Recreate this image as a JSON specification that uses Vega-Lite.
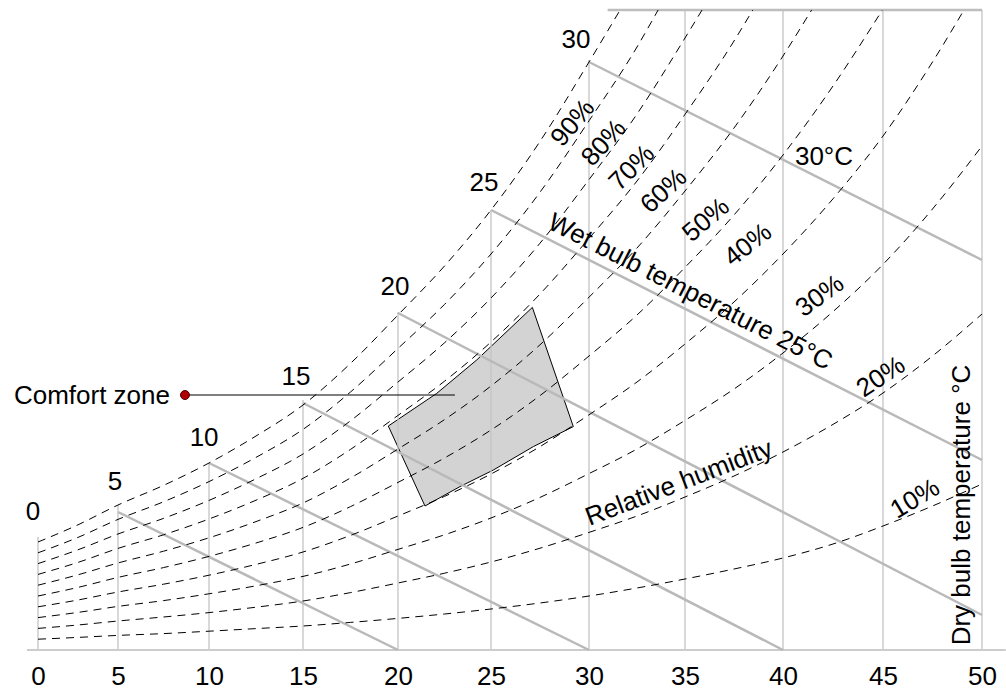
{
  "$schema": "https://vega.github.io/schema/vega-lite/v6.json",
  "width": 1006,
  "height": 640,
  "autosize": {"type": "none"},
  "padding": {"left": 0, "top": 10, "right": 0, "bottom": 42},
  "background": "white",
  "config": {"view": {"stroke": null}, "font": "Liberation Sans", "text": {"font": "Liberation Sans", "fontSize": 26, "color": "black"}},
  "datasets": {
    "rh": [
      {"rh":100,"t":0,"w":5.40},{"rh":100,"t":2.5,"w":6.26},{"rh":100,"t":5,"w":7.25},{"rh":100,"t":7.5,"w":8.23},{"rh":100,"t":10,"w":9.35},{"rh":100,"t":12.5,"w":10.70},{"rh":100,"t":15,"w":12.25},{"rh":100,"t":17.5,"w":14.33},{"rh":100,"t":20,"w":16.75},{"rh":100,"t":22.5,"w":19.20},{"rh":100,"t":25,"w":22.00},{"rh":100,"t":27.5,"w":25.43},{"rh":100,"t":30,"w":29.40},{"rh":100,"t":31.62,"w":32},
      {"rh":90,"t":0,"w":4.86},{"rh":90,"t":2.5,"w":5.63},{"rh":90,"t":5,"w":6.53},{"rh":90,"t":7.5,"w":7.41},{"rh":90,"t":10,"w":8.42},{"rh":90,"t":12.5,"w":9.63},{"rh":90,"t":15,"w":11.03},{"rh":90,"t":17.5,"w":12.90},{"rh":90,"t":20,"w":15.08},{"rh":90,"t":22.5,"w":17.28},{"rh":90,"t":25,"w":19.80},{"rh":90,"t":27.5,"w":22.89},{"rh":90,"t":30,"w":26.46},{"rh":90,"t":32.5,"w":30.15},{"rh":90,"t":33.6,"w":32},
      {"rh":80,"t":0,"w":4.32},{"rh":80,"t":2.5,"w":5.01},{"rh":80,"t":5,"w":5.80},{"rh":80,"t":7.5,"w":6.58},{"rh":80,"t":10,"w":7.48},{"rh":80,"t":12.5,"w":8.56},{"rh":80,"t":15,"w":9.80},{"rh":80,"t":17.5,"w":11.46},{"rh":80,"t":20,"w":13.40},{"rh":80,"t":22.5,"w":15.36},{"rh":80,"t":25,"w":17.60},{"rh":80,"t":27.5,"w":20.34},{"rh":80,"t":30,"w":23.52},{"rh":80,"t":32.5,"w":26.80},{"rh":80,"t":35,"w":30.60},{"rh":80,"t":35.87,"w":32},
      {"rh":70,"t":0,"w":3.78},{"rh":70,"t":2.5,"w":4.38},{"rh":70,"t":5,"w":5.08},{"rh":70,"t":7.5,"w":5.76},{"rh":70,"t":10,"w":6.55},{"rh":70,"t":12.5,"w":7.49},{"rh":70,"t":15,"w":8.58},{"rh":70,"t":17.5,"w":10.03},{"rh":70,"t":20,"w":11.73},{"rh":70,"t":22.5,"w":13.44},{"rh":70,"t":25,"w":15.40},{"rh":70,"t":27.5,"w":17.80},{"rh":70,"t":30,"w":20.58},{"rh":70,"t":32.5,"w":23.45},{"rh":70,"t":35,"w":26.78},{"rh":70,"t":37.5,"w":30.45},{"rh":70,"t":38.46,"w":32},
      {"rh":60,"t":0,"w":3.24},{"rh":60,"t":2.5,"w":3.76},{"rh":60,"t":5,"w":4.35},{"rh":60,"t":7.5,"w":4.94},{"rh":60,"t":10,"w":5.61},{"rh":60,"t":12.5,"w":6.42},{"rh":60,"t":15,"w":7.35},{"rh":60,"t":17.5,"w":8.60},{"rh":60,"t":20,"w":10.05},{"rh":60,"t":22.5,"w":11.52},{"rh":60,"t":25,"w":13.20},{"rh":60,"t":27.5,"w":15.26},{"rh":60,"t":30,"w":17.64},{"rh":60,"t":32.5,"w":20.10},{"rh":60,"t":35,"w":22.95},{"rh":60,"t":37.5,"w":26.10},{"rh":60,"t":40,"w":29.70},{"rh":60,"t":41.43,"w":32},
      {"rh":50,"t":0,"w":2.70},{"rh":50,"t":2.5,"w":3.13},{"rh":50,"t":5,"w":3.63},{"rh":50,"t":7.5,"w":4.12},{"rh":50,"t":10,"w":4.68},{"rh":50,"t":12.5,"w":5.35},{"rh":50,"t":15,"w":6.13},{"rh":50,"t":17.5,"w":7.17},{"rh":50,"t":20,"w":8.38},{"rh":50,"t":22.5,"w":9.60},{"rh":50,"t":25,"w":11.00},{"rh":50,"t":27.5,"w":12.72},{"rh":50,"t":30,"w":14.70},{"rh":50,"t":32.5,"w":16.75},{"rh":50,"t":35,"w":19.13},{"rh":50,"t":37.5,"w":21.75},{"rh":50,"t":40,"w":24.75},{"rh":50,"t":42.5,"w":28.20},{"rh":50,"t":44.97,"w":32},
      {"rh":40,"t":0,"w":2.16},{"rh":40,"t":2.5,"w":2.50},{"rh":40,"t":5,"w":2.90},{"rh":40,"t":7.5,"w":3.29},{"rh":40,"t":10,"w":3.74},{"rh":40,"t":12.5,"w":4.28},{"rh":40,"t":15,"w":4.90},{"rh":40,"t":17.5,"w":5.73},{"rh":40,"t":20,"w":6.70},{"rh":40,"t":22.5,"w":7.68},{"rh":40,"t":25,"w":8.80},{"rh":40,"t":27.5,"w":10.17},{"rh":40,"t":30,"w":11.76},{"rh":40,"t":32.5,"w":13.40},{"rh":40,"t":35,"w":15.30},{"rh":40,"t":37.5,"w":17.40},{"rh":40,"t":40,"w":19.80},{"rh":40,"t":42.5,"w":22.56},{"rh":40,"t":45,"w":25.70},{"rh":40,"t":47.5,"w":29.40},{"rh":40,"t":49.09,"w":32},
      {"rh":30,"t":0,"w":1.62},{"rh":30,"t":2.5,"w":1.88},{"rh":30,"t":5,"w":2.18},{"rh":30,"t":7.5,"w":2.47},{"rh":30,"t":10,"w":2.81},{"rh":30,"t":12.5,"w":3.21},{"rh":30,"t":15,"w":3.68},{"rh":30,"t":17.5,"w":4.30},{"rh":30,"t":20,"w":5.03},{"rh":30,"t":22.5,"w":5.76},{"rh":30,"t":25,"w":6.60},{"rh":30,"t":27.5,"w":7.63},{"rh":30,"t":30,"w":8.82},{"rh":30,"t":32.5,"w":10.05},{"rh":30,"t":35,"w":11.48},{"rh":30,"t":37.5,"w":13.05},{"rh":30,"t":40,"w":14.85},{"rh":30,"t":42.5,"w":16.92},{"rh":30,"t":45,"w":19.28},{"rh":30,"t":47.5,"w":22.05},{"rh":30,"t":50,"w":25.20},
      {"rh":20,"t":0,"w":1.08},{"rh":20,"t":2.5,"w":1.25},{"rh":20,"t":5,"w":1.45},{"rh":20,"t":7.5,"w":1.65},{"rh":20,"t":10,"w":1.87},{"rh":20,"t":12.5,"w":2.14},{"rh":20,"t":15,"w":2.45},{"rh":20,"t":17.5,"w":2.87},{"rh":20,"t":20,"w":3.35},{"rh":20,"t":22.5,"w":3.84},{"rh":20,"t":25,"w":4.40},{"rh":20,"t":27.5,"w":5.09},{"rh":20,"t":30,"w":5.88},{"rh":20,"t":32.5,"w":6.70},{"rh":20,"t":35,"w":7.65},{"rh":20,"t":37.5,"w":8.70},{"rh":20,"t":40,"w":9.90},{"rh":20,"t":42.5,"w":11.28},{"rh":20,"t":45,"w":12.85},{"rh":20,"t":47.5,"w":14.70},{"rh":20,"t":50,"w":16.80},
      {"rh":10,"t":0,"w":0.54},{"rh":10,"t":2.5,"w":0.63},{"rh":10,"t":5,"w":0.73},{"rh":10,"t":7.5,"w":0.82},{"rh":10,"t":10,"w":0.94},{"rh":10,"t":12.5,"w":1.07},{"rh":10,"t":15,"w":1.20},{"rh":10,"t":17.5,"w":1.38},{"rh":10,"t":20,"w":1.58},{"rh":10,"t":22.5,"w":1.80},{"rh":10,"t":25,"w":2.05},{"rh":10,"t":27.5,"w":2.35},{"rh":10,"t":30,"w":2.70},{"rh":10,"t":32.5,"w":3.10},{"rh":10,"t":35,"w":3.55},{"rh":10,"t":37.5,"w":4.05},{"rh":10,"t":40,"w":4.60},{"rh":10,"t":42.5,"w":5.30},{"rh":10,"t":45,"w":6.20},{"rh":10,"t":47.5,"w":7.20},{"rh":10,"t":50,"w":8.30}
    ],
    "dry": [
      {"t":0,"w":0,"w2":5.65},{"t":5,"w":0,"w2":7.25},{"t":10,"w":0,"w2":9.35},{"t":15,"w":0,"w2":12.5},{"t":20,"w":0,"w2":16.9},{"t":25,"w":0,"w2":22.0},{"t":30,"w":0,"w2":29.5},{"t":35,"w":0,"w2":32},{"t":40,"w":0,"w2":32},{"t":45,"w":0,"w2":32},{"t":50,"w":0,"w2":32}
    ],
    "wet": [
      {"t":5,"w":6.9,"t2":20,"w2":0},{"t":10,"w":9.35,"t2":30,"w2":0},{"t":15,"w":12.35,"t2":40,"w2":0},{"t":20,"w":16.85,"t2":50,"w2":1.75},{"t":25,"w":22.0,"t2":50,"w2":9.5},{"t":30,"w":29.4,"t2":50,"w2":19.5}
    ],
    "comfort": [
      {"i":1,"t":19.49,"w":11.2},{"i":2,"t":22.08,"w":12.83},{"i":3,"t":24.23,"w":14.5},{"i":4,"t":27.11,"w":17.13},{"i":5,"t":29.2,"w":11.17},{"i":6,"t":27.16,"w":10.17},{"i":7,"t":25.12,"w":9.0},{"i":8,"t":23.33,"w":8.17},{"i":9,"t":21.45,"w":7.2},{"i":10,"t":19.49,"w":11.2}
    ],
    "wblabels": [
      {"label":"0","t":-0.31,"w":6.9},{"label":"5","t":4.81,"w":8.4},{"label":"10","t":9.73,"w":10.6},{"label":"15","t":14.63,"w":13.65},{"label":"20","t":19.84,"w":18.15},{"label":"25","t":24.62,"w":23.35},{"label":"30","t":29.34,"w":30.5}
    ],
    "rhlabels": [
      {"label":"90%","rh":90,"t":29.18,"w":26.35},{"label":"80%","rh":80,"t":30.77,"w":25.35},{"label":"70%","rh":70,"t":32.24,"w":24.1},{"label":"60%","rh":60,"t":33.9,"w":22.95},{"label":"50%","rh":50,"t":36.07,"w":21.5},{"label":"40%","rh":40,"t":38.21,"w":20.25},{"label":"30%","rh":30,"t":41.85,"w":17.7},{"label":"20%","rh":20,"t":44.9,"w":13.65},{"label":"10%","rh":10,"t":46.62,"w":7.55}
    ]
  },
  "encoding": {
    "x": {"field": "t", "type": "quantitative",
      "scale": {"domain": [0,5,10,15,20,25,30,35,40,45,50], "range": [38,118,209,303,398,491,589,685,783,883,982], "nice": false, "zero": false},
      "axis": {"values": [0,5,10,15,20,25,30,35,40,45,50], "domain": false, "ticks": false, "grid": false, "title": null, "labelFontSize": 26, "labelFont": "Liberation Sans", "labelColor": "black", "labelPadding": 13, "labelFlush": false, "labelOverlap": false}},
    "y": {"field": "w", "type": "quantitative", "scale": {"domain": [0, 32], "nice": false, "zero": false}, "axis": null}
  },
  "layer": [
    {"data": {"name": "comfort"}, "mark": {"type": "line", "fill": "#d3d3d3", "stroke": "black", "strokeWidth": 1}, "encoding": {"order": {"field": "i", "type": "quantitative"}}},
    {"data": {"name": "dry"}, "mark": {"type": "rule", "color": "#c4c4c4", "strokeWidth": 1.3}, "encoding": {"y2": {"field": "w2"}}},
    {"data": {"values": [{"t": -0.69, "t2": 51.2, "w": 0}]}, "mark": {"type": "rule", "color": "#cccccc", "strokeWidth": 2}, "encoding": {"x2": {"field": "t2"}}},
    {"data": {"values": [{"t": 30.97, "t2": 50, "w": 32}]}, "mark": {"type": "rule", "color": "#bdbdbd", "strokeWidth": 2.5}, "encoding": {"x2": {"field": "t2"}}},
    {"data": {"name": "wet"}, "mark": {"type": "rule", "color": "#b9b9b9", "strokeWidth": 2.5}, "encoding": {"x2": {"field": "t2"}, "y2": {"field": "w2"}}},
    {"data": {"name": "rh"}, "mark": {"type": "line", "color": "black", "strokeWidth": 1, "strokeDash": [8, 6], "interpolate": "monotone"}, "encoding": {"detail": {"field": "rh", "type": "nominal"}, "order": {"field": "t", "type": "quantitative"}}},
    {"data": {"values": [{"t": 8.68, "t2": 23.06, "w": 12.75}]}, "mark": {"type": "rule", "color": "black", "strokeWidth": 1}, "encoding": {"x2": {"field": "t2"}}},
    {"data": {"values": [{"t": 8.68, "w": 12.75, "label": "Comfort zone"}]}, "mark": {"type": "point", "filled": true, "fill": "#b00000", "stroke": "#4a0000", "strokeWidth": 1, "size": 80, "opacity": 1}},
    {"data": {"values": [{"t": 8.68, "w": 12.75, "label": "Comfort zone"}]}, "mark": {"type": "text", "align": "right", "baseline": "alphabetic", "dx": -15, "dy": 9}, "encoding": {"text": {"field": "label"}}},
    {"data": {"name": "wblabels"}, "mark": {"type": "text", "align": "center", "baseline": "middle"}, "encoding": {"text": {"field": "label"}}},
    {"data": {"name": "rhlabels"}, "mark": {"type": "text", "align": "center", "baseline": "middle"}, "encoding": {"text": {"field": "label"}, "angle": {"field": "rh", "type": "quantitative", "scale": {"domain": [10, 90], "range": [329, 310]}, "legend": null}}},
    {"data": {"values": [{"t": 42.05, "w": 24.65, "label": "30°C"}]}, "mark": {"type": "text", "align": "center", "baseline": "middle"}, "encoding": {"text": {"field": "label"}}},
    {"data": {"values": [{"t": 35.26, "w": 17.9, "label": "Wet bulb temperature 25°C"}]}, "mark": {"type": "text", "align": "center", "baseline": "middle", "angle": 27}, "encoding": {"text": {"field": "label"}}},
    {"data": {"values": [{"t": 34.69, "w": 8.35, "label": "Relative humidity"}]}, "mark": {"type": "text", "align": "center", "baseline": "middle", "angle": 339}, "encoding": {"text": {"field": "label"}}},
    {"data": {"values": [{"t": 48.99, "w": 7.25, "label": "Dry bulb temperature °C"}]}, "mark": {"type": "text", "align": "center", "baseline": "middle", "angle": 270}, "encoding": {"text": {"field": "label"}}}
  ]
}
